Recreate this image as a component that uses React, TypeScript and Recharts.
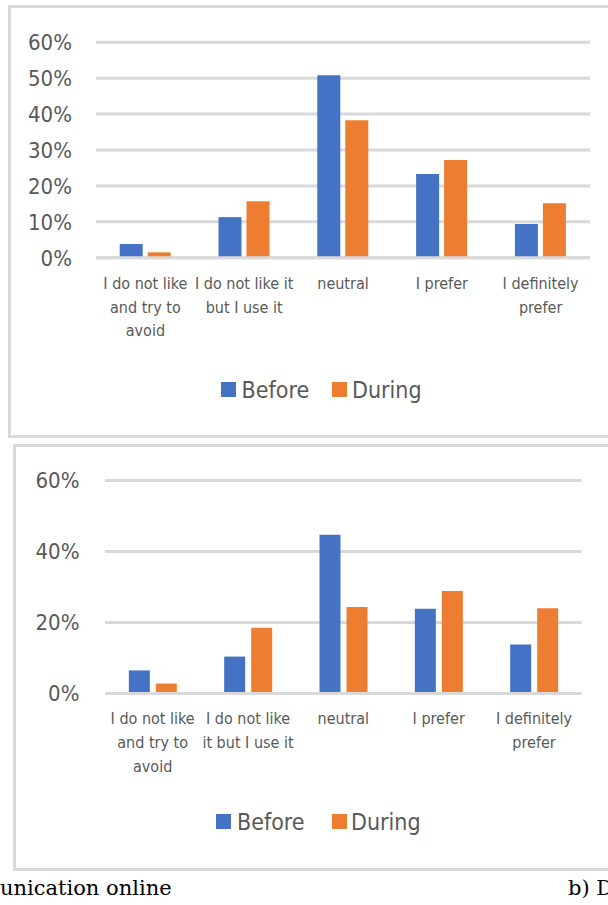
import React from 'react'
import { BarChart, Bar, XAxis, YAxis, CartesianGrid, ReferenceLine } from 'recharts'

// top panel: a) communication online
const categoriesA = [
  'I do not like\nand try to\navoid',
  'I do not like it\nbut I use it',
  'neutral',
  'I prefer',
  'I definitely\nprefer',
]
const beforeA = [3.8, 11.3, 50.8, 23.3, 9.4]
const duringA = [1.5, 15.7, 38.3, 27.2, 15.2]
const ticksA = [0, 10, 20, 30, 40, 50, 60]

// bottom panel
const categoriesB = [
  'I do not like\nand try to\navoid',
  'I do not like\nit but I use it',
  'neutral',
  'I prefer',
  'I definitely\nprefer',
]
const beforeB = [6.5, 10.4, 44.7, 23.9, 13.8]
const duringB = [2.8, 18.5, 24.4, 28.9, 24.0]
const ticksB = [0, 20, 40, 60]

const seriesNames = ['Before', 'During']
const seriesColors = ['#4472C4', '#ED7D31']

const FONT = "'Liberation Sans Narrow', 'DejaVu Sans Condensed', 'Arial Narrow', 'Roboto', sans-serif"
const TEXT = '#595959'
const GRID = '#D9D9D9'

const toRows = (cats: string[], before: number[], during: number[]) =>
  cats.map((name, i) => ({ name, before: before[i], during: during[i] }))

function CategoryTick(props: any) {
  const { x, y, payload, firstDy, lineGap } = props
  const lines = String(payload.value).split('\n')
  return (
    <text x={x} y={y} textAnchor="middle" fill={TEXT} fontSize={16} fontFamily={FONT}>
      {lines.map((l, i) => (
        <tspan key={i} x={x} dy={i === 0 ? firstDy : lineGap}>
          {l}
        </tspan>
      ))}
    </text>
  )
}

type PanelProps = {
  rows: { name: string; before: number; during: number }[]
  ticks: number[]
  top: number
  height: number
  margin: { top: number; right: number; bottom: number; left: number }
  yWidth: number
  tickGap: number
  gapPct: string
  barGap: number
  firstDy: number
  lineGap: number
}

function Panel({ rows, ticks, top, height, margin, yWidth, tickGap, gapPct, barGap, firstDy, lineGap }: PanelProps) {
  return (
    <div style={{ position: 'absolute', left: 0, top }}>
      <BarChart width={608} height={height} data={rows} margin={margin} barCategoryGap={gapPct} barGap={barGap}>
        <CartesianGrid vertical={false} stroke={GRID} strokeWidth={3} />
        <XAxis
          dataKey="name"
          axisLine={false}
          tickLine={false}
          tickSize={0}
          tickMargin={0}
          height={60}
          interval={0}
          tick={<CategoryTick firstDy={firstDy} lineGap={lineGap} />}
        />
        <YAxis
          type="number"
          domain={[0, 60]}
          ticks={ticks}
          width={yWidth}
          axisLine={false}
          tickLine={false}
          tickSize={0}
          tickMargin={tickGap}
          tickFormatter={(v) => `${v}%`}
          tick={{ fill: TEXT, fontSize: 22, fontFamily: FONT }}
        />
        <Bar dataKey="before" name={seriesNames[0]} fill={seriesColors[0]} isAnimationActive={false} />
        <Bar dataKey="during" name={seriesNames[1]} fill={seriesColors[1]} isAnimationActive={false} />
        <ReferenceLine y={0} stroke={GRID} strokeWidth={3} />
      </BarChart>
    </div>
  )
}

function LegendRow({ cy, squares, labels }: { cy: number; squares: number[]; labels: number[] }) {
  return (
    <>
      {seriesNames.map((s, i) => (
        <React.Fragment key={s}>
          <div
            style={{
              position: 'absolute',
              left: squares[i],
              top: cy - 7.5,
              width: 15,
              height: 15,
              background: seriesColors[i],
            }}
          />
          <div
            style={{
              position: 'absolute',
              left: labels[i],
              top: cy - 16,
              height: 32,
              lineHeight: '32px',
              fontFamily: FONT,
              fontSize: 23,
              color: TEXT,
              whiteSpace: 'nowrap',
            }}
          >
            {s}
          </div>
        </React.Fragment>
      ))}
    </>
  )
}

export default function App() {
  const boxStyle = { position: 'absolute' as const, border: `3px solid ${GRID}`, boxSizing: 'border-box' as const, width: 640 }
  const captionStyle = {
    position: 'absolute' as const,
    top: 874,
    fontFamily: "'DejaVu Serif', serif",
    fontSize: 21,
    lineHeight: '28px',
    color: '#000',
    whiteSpace: 'nowrap' as const,
  }
  return (
    <div style={{ position: 'absolute', left: 0, top: 0, width: 608, height: 905, overflow: 'hidden', background: '#fff' }}>
      <div style={{ ...boxStyle, left: 8, top: 5, height: 433 }} />
      <div style={{ ...boxStyle, left: 13, top: 444, height: 427 }} />

      <Panel
        rows={toRows(categoriesA, beforeA, duringA)}
        ticks={ticksA}
        top={0}
        height={436}
        margin={{ top: 42.3, right: 18, bottom: 436 - 257.7 - 60, left: 0 }}
        yWidth={96}
        tickGap={24}
        gapPct="24%"
        barGap={5}
        firstDy={31.5}
        lineGap={23.5}
      />
      <LegendRow cy={389.7} squares={[221, 332.4]} labels={[241.6, 352]} />

      <Panel
        rows={toRows(categoriesB, beforeB, duringB)}
        ticks={ticksB}
        top={440}
        height={430}
        margin={{ top: 480.5 - 440, right: 608 - 581.7, bottom: 430 - (693.5 - 440) - 60, left: 0 }}
        yWidth={105}
        tickGap={25.5}
        gapPct="25%"
        barGap={6}
        firstDy={30.6}
        lineGap={24}
      />
      <LegendRow cy={821.7} squares={[216, 332]} labels={[237, 351]} />

      <div style={{ ...captionStyle, left: 0 }}>unication online</div>
      <div style={{ ...captionStyle, left: 568 }}>b) D</div>
    </div>
  )
}
